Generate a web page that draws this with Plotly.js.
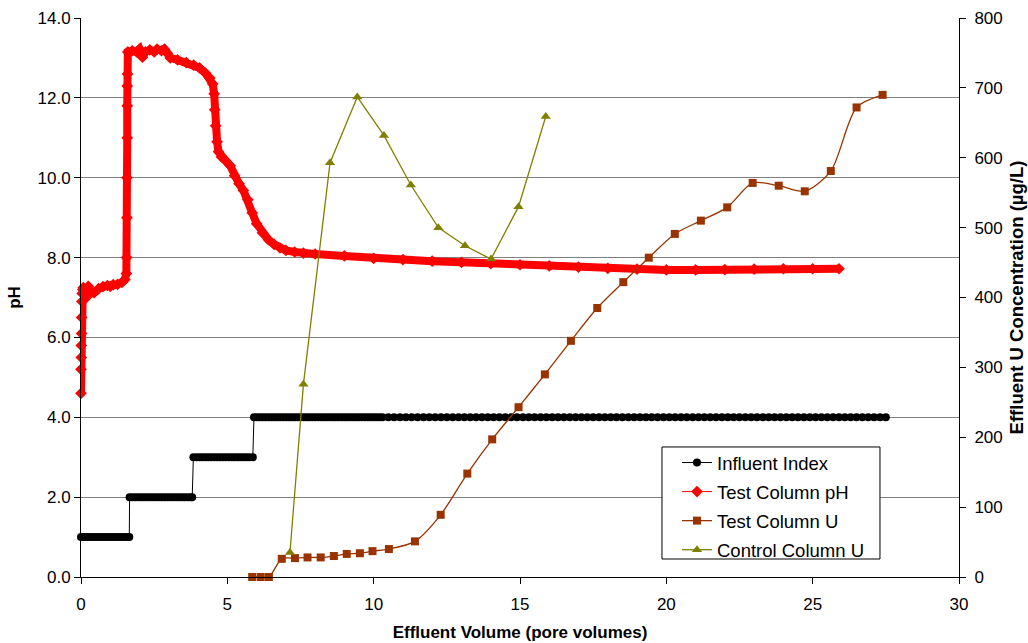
<!DOCTYPE html>
<html>
<head>
<meta charset="utf-8">
<script src="https://cdn.plot.ly/plotly-3.0.1.min.js"></script>
<style>
  html, body { margin: 0; padding: 0; background: #ffffff; }
  #chart { width: 1028px; height: 643px; }
</style>
</head>
<body>
<div id="chart"></div>
<script>
// Influent index: one x list per influent solution, plotted at its index value
const influentLevels = [1, 2, 3, 4];
const influentX1 = [0.00,0.10,0.20,0.30,0.40,0.50,0.60,0.70,0.80,0.90,1.00,1.10,1.20,1.30,1.40,1.50,1.60,1.65];
const influentX2 = [1.66,1.75,1.85,1.95,2.05,2.15,2.25,2.35,2.45,2.55,2.65,2.75,2.85,2.95,3.05,3.15,3.25,3.35,3.45,3.55,3.65,3.75,3.80];
const influentX3 = [3.84,3.95,4.05,4.15,4.25,4.35,4.45,4.55,4.65,4.75,4.85,4.95,5.05,5.15,5.25,5.35,5.45,5.55,5.65,5.75,5.87];
const influentX4 = [5.91,6.00,6.10,6.20,6.30,6.40,6.50,6.60,6.70,6.80,6.90,7.00,7.10,7.20,7.30,7.40,7.50,7.60,7.70,7.80,7.90,
  8.00,8.10,8.20,8.30,8.40,8.50,8.60,8.70,8.80,8.90,9.00,9.10,9.20,9.30,9.40,9.50,9.60,9.70,9.80,9.90,10.00,10.10,10.20,10.30,
  10.50,10.70,10.90,11.10,11.30,11.50,11.70,11.90,12.10,12.30,12.50,12.70,12.90,13.10,13.30,13.50,13.70,13.90,14.10,14.30,
  14.50,14.70,14.90,15.10,15.30,15.50,15.70,15.90,16.10,16.30,16.50,16.70,16.90,17.10,17.30,17.50,17.70,17.90,18.10,18.30,
  18.50,18.70,18.90,19.10,19.30,19.50,19.70,19.90,20.10,20.30,20.50,20.70,20.90,21.10,21.30,21.50,21.70,21.90,22.10,22.30,
  22.50,22.70,22.90,23.10,23.30,23.50,23.70,23.90,24.10,24.30,24.50,24.70,24.90,25.10,25.30,25.50,25.70,25.90,26.10,26.30,
  26.50,26.70,26.90,27.10,27.30,27.50];

// Test column effluent pH
const phX = [0.00,0.00,0.01,0.01,0.02,0.02,0.03,0.04,0.06,0.08,0.12,0.18,0.25,0.32,0.45,0.60,0.75,0.90,1.00,1.10,1.25,1.40,1.50,
  1.55,1.56,1.57,1.57,1.58,1.58,1.58,1.59,1.60,1.75,1.90,2.00,2.10,2.20,2.35,2.50,2.60,2.75,2.85,2.95,3.05,3.30,3.60,3.85,
  4.05,4.25,4.40,4.50,4.55,4.57,4.60,4.65,4.70,4.80,4.95,5.10,5.25,5.40,5.55,5.70,5.85,6.00,6.20,6.40,6.60,6.80,7.00,7.30,
  7.60,8.00,9.00,10.00,11.00,12.00,13.00,14.00,15.00,16.00,17.00,18.00,19.00,20.00,21.00,22.00,23.00,24.00,25.00,25.90];
const phY = [4.60,5.20,5.50,5.80,6.10,6.50,6.90,7.10,7.20,7.25,6.95,7.05,7.28,7.10,7.12,7.22,7.27,7.30,7.28,7.32,7.33,7.38,7.45,
  7.60,8.00,9.00,10.00,11.00,11.80,12.30,12.60,13.15,13.18,13.15,13.22,13.02,13.15,13.20,13.15,13.22,13.18,13.22,13.12,13.00,12.95,12.88,12.82,
  12.75,12.62,12.50,12.35,12.10,11.70,11.30,10.90,10.65,10.52,10.42,10.30,10.05,9.85,9.68,9.45,9.12,8.85,8.62,8.45,8.33,8.24,8.18,8.14,
  8.11,8.09,8.04,7.98,7.95,7.91,7.88,7.85,7.82,7.79,7.76,7.73,7.71,7.69,7.69,7.70,7.71,7.72,7.72,7.72];

// Effluent uranium, test column (µg/L)
const testUX = [5.85,6.14,6.42,6.86,7.31,7.74,8.19,8.64,9.08,9.53,9.96,10.52,11.41,12.29,13.20,14.05,14.95,15.85,16.74,17.64,
  18.53,19.40,20.29,21.18,22.08,22.95,23.84,24.73,25.62,26.50,27.39];
const testU = [0,0,0,26,27,28,28,30,33,34,37,40,51,89,148,197,243,290,338,385,422,457,491,510,529,564,560,552,581,672,690];

// Effluent uranium, control column (µg/L)
const controlUX = [7.14,7.60,8.51,9.44,10.35,11.27,12.21,13.12,14.01,14.95,15.88];
const controlU = [35,276,593,687,632,561,500,474,455,530,659];

// Axis ticks
const xTicks = [0,5,10,15,20,25,30];
const phTicks = [0,2,4,6,8,10,12,14];
const uTicks = [0,100,200,300,400,500,600,700,800];

const influentX = [];
const influentY = [];
[influentX1, influentX2, influentX3, influentX4].forEach(function (xs, i) {
  xs.forEach(function (x) { influentX.push(x); influentY.push(influentLevels[i]); });
});

const FONT = 'Liberation Sans, Arial, Helvetica, sans-serif';

const traces = [
  {
    name: 'Influent Index', legendgroup: 'inf',
    x: influentX, y: influentY, xaxis: 'x', yaxis: 'y',
    mode: 'lines+markers', cliponaxis: false,
    line: { color: '#000000', width: 1 },
    marker: { symbol: 'circle', size: 8, color: '#000000' }
  },
  {
    // thick band under the pH readings
    name: 'Test Column pH', legendgroup: 'ph', showlegend: false, hoverinfo: 'skip',
    x: phX, y: phY, xaxis: 'x', yaxis: 'y',
    mode: 'lines', line: { color: '#FF0000', width: 8 }
  },
  {
    name: 'Test Column pH', legendgroup: 'ph',
    x: phX, y: phY, xaxis: 'x', yaxis: 'y',
    mode: 'lines+markers', cliponaxis: false,
    line: { color: '#FF0000', width: 1 },
    marker: { symbol: 'diamond', size: 9, color: '#FF0000' }
  },
  {
    name: 'Test Column U', legendgroup: 'tu',
    x: testUX, y: testU, xaxis: 'x', yaxis: 'y2',
    mode: 'lines+markers', cliponaxis: false,
    line: { color: '#993300', width: 1.3, shape: 'spline', smoothing: 0.8 },
    marker: { symbol: 'square', size: 8, color: '#993300' }
  },
  {
    name: 'Control Column U', legendgroup: 'cu',
    x: controlUX, y: controlU, xaxis: 'x', yaxis: 'y2',
    mode: 'lines+markers', cliponaxis: false,
    line: { color: '#808000', width: 1.3 },
    marker: { symbol: 'triangle-up', size: 9, color: '#808000' }
  }
];

const layout = {
  width: 1028, height: 643,
  margin: { l: 81, r: 69, t: 18, b: 66, pad: 0 },
  paper_bgcolor: '#ffffff', plot_bgcolor: '#ffffff',
  font: { family: FONT, size: 17, color: '#000000' },
  showlegend: true,
  legend: {
    x: 0.6788, y: 0.2379, xanchor: 'left', yanchor: 'top',
    bgcolor: 'rgba(0,0,0,0)', borderwidth: 0,
    font: { family: FONT, size: 18.5, color: '#000000' },
    traceorder: 'grouped', tracegroupgap: 2
  },
  // legend frame
  shapes: [{
    type: 'rect', xref: 'paper', yref: 'paper', layer: 'above',
    x0: 0.6617, x1: 0.9100, y0: 0.0322, y1: 0.2326,
    fillcolor: '#ffffff', line: { color: '#000000', width: 1 }
  }],
  xaxis: {
    range: [0, 30], tickvals: xTicks, ticks: 'outside', ticklen: 6, tickcolor: '#000000',
    ticklabelstandoff: 6,
    showline: true, linecolor: '#000000', linewidth: 1, showgrid: false, zeroline: false,
    tickfont: { family: FONT, size: 17 },
    title: { text: 'Effluent Volume (pore volumes)', font: { family: FONT, size: 17, weight: 'bold' }, standoff: 12 }
  },
  yaxis: {
    range: [0, 14], tickvals: phTicks, tickformat: '.1f', ticks: 'outside', ticklen: 6, tickcolor: '#000000',
    showline: true, linecolor: '#000000', linewidth: 1,
    showgrid: true, gridcolor: '#808080', gridwidth: 1, zeroline: false,
    tickfont: { family: FONT, size: 17 },
    title: { text: 'pH', font: { family: FONT, size: 17, weight: 'bold' }, standoff: 12 }
  },
  yaxis2: {
    range: [0, 800], tickvals: uTicks, overlaying: 'y', side: 'right',
    ticks: 'outside', ticklen: 6, tickcolor: '#000000', ticklabelstandoff: 5,
    showline: true, linecolor: '#000000', linewidth: 1, showgrid: false, zeroline: false,
    tickfont: { family: FONT, size: 17 },
    title: { text: 'Effluent U Concentration (µg/L)', font: { family: FONT, size: 18.5, weight: 'bold' }, standoff: 8 }
  }
};

Plotly.newPlot('chart', traces, layout, { displayModeBar: false, staticPlot: true });
</script>
</body>
</html>
